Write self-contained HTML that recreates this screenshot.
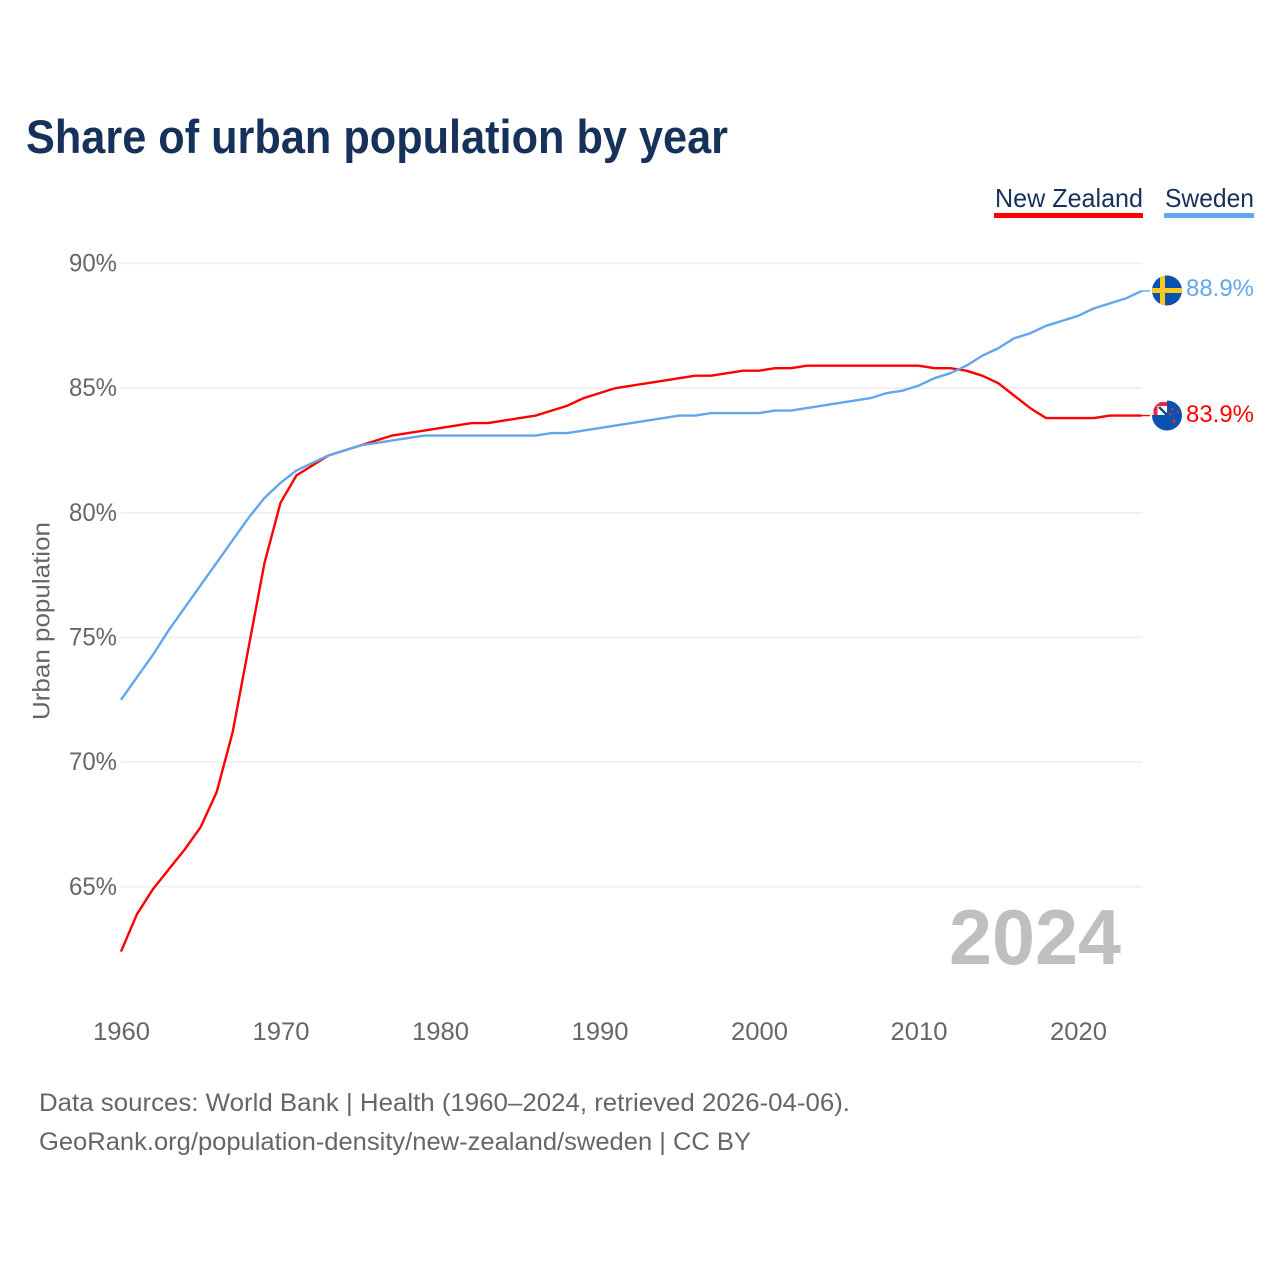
<!DOCTYPE html>
<html lang="en">
<head>
<meta charset="utf-8">
<title>Share of urban population by year</title>
<style>
html,body{margin:0;padding:0;background:#fff;width:1280px;height:1280px;overflow:hidden}
svg{display:block}
text{font-family:"Liberation Sans",sans-serif}
</style>
</head>
<body>
<svg id="chart" width="1280" height="1280" viewBox="0 0 1280 1280" xmlns="http://www.w3.org/2000/svg">
  <defs>
    <clipPath id="clip-se"><circle cx="1167" cy="290.5" r="15"/></clipPath>
    <clipPath id="clip-nz"><circle cx="1167" cy="415.5" r="15"/></clipPath>
  </defs>
  <rect width="1280" height="1280" fill="#ffffff"/>
  <text x="26" y="153" font-size="47" font-weight="700" fill="#17325a" textLength="702" lengthAdjust="spacingAndGlyphs">Share of urban population by year</text>

  <g id="grid"></g>
  <g id="yticks"></g>
  <g id="xticks"></g>
  <text transform="translate(49.5,621) rotate(-90)" text-anchor="middle" font-size="24" fill="#666666" textLength="198" lengthAdjust="spacingAndGlyphs">Urban population</text>

  <text x="1121" y="964" text-anchor="end" font-size="78" font-weight="700" fill="#bfbfbf" textLength="172" lengthAdjust="spacingAndGlyphs">2024</text>

  <polyline id="line-nz" fill="none" stroke="#ff0000" stroke-width="2.4" stroke-linejoin="round"/>
  <polyline id="line-sweden" fill="none" stroke="#62a6ec" stroke-width="2.4" stroke-linejoin="round"/>
  <line id="conn-sweden" stroke="#62a6ec" stroke-width="1.4"/>
  <line id="conn-nz" stroke="#ff0000" stroke-width="1.4"/>

  <g id="legend">
    <g>
      <text x="995" y="207" font-size="26" fill="#17325a" textLength="148" lengthAdjust="spacingAndGlyphs">New Zealand</text>
      <rect x="994" y="213" width="149" height="5" fill="#ff0000"/>
    </g>
    <g>
      <text x="1165" y="207" font-size="26" fill="#17325a" textLength="89" lengthAdjust="spacingAndGlyphs">Sweden</text>
      <rect x="1164" y="213" width="90" height="5" fill="#62a6ec"/>
    </g>
  </g>

  <g clip-path="url(#clip-se)">
    <rect x="1152" y="275" width="30" height="31" fill="#0a52ae"/>
    <rect x="1160" y="275" width="5" height="31" fill="#fcc91f"/>
    <rect x="1152" y="288" width="30" height="5" fill="#fcc91f"/>
  </g>
  <g clip-path="url(#clip-nz)">
    <rect x="1152" y="400" width="30" height="31" fill="#0a52ae"/>
    <rect x="1152" y="400" width="15" height="15" fill="#ffffff"/>
    <path d="M1155.5 415V404H1167" fill="none" stroke="#e8283c" stroke-width="4"/>
    <path d="M1159 407L1167 415" stroke="#17428f" stroke-width="2.5"/>
    <circle cx="1172" cy="409" r="1.2" fill="#e8283c"/>
    <circle cx="1178" cy="412" r="1.2" fill="#e8283c"/>
    <circle cx="1170" cy="414" r="1.2" fill="#e8283c"/>
    <circle cx="1174" cy="421" r="1.6" fill="#e8283c"/>
  </g>
  <text x="1186" y="296" font-size="24" fill="#62a6ec" textLength="68" lengthAdjust="spacingAndGlyphs">88.9%</text>
  <text x="1186" y="422" font-size="24" fill="#ff0000" textLength="68" lengthAdjust="spacingAndGlyphs">83.9%</text>

  <text x="39" y="1111" font-size="25" fill="#666666" textLength="811" lengthAdjust="spacingAndGlyphs">Data sources: World Bank | Health (1960–2024, retrieved 2026-04-06).</text>
  <text x="39" y="1150" font-size="25" fill="#666666" textLength="712" lengthAdjust="spacingAndGlyphs">GeoRank.org/population-density/new-zealand/sweden | CC BY</text>
</svg>
<script>
const firstYear = 1960;
const sweden = [72.5,73.4,74.3,75.3,76.2,77.1,78.0,78.9,79.8,80.6,81.2,81.7,82.0,82.3,82.5,82.7,82.8,82.9,83.0,83.1,83.1,83.1,83.1,83.1,83.1,83.1,83.1,83.2,83.2,83.3,83.4,83.5,83.6,83.7,83.8,83.9,83.9,84.0,84.0,84.0,84.0,84.1,84.1,84.2,84.3,84.4,84.5,84.6,84.8,84.9,85.1,85.4,85.6,85.9,86.3,86.6,87.0,87.2,87.5,87.7,87.9,88.2,88.4,88.6,88.9];
const newZealand = [62.4,63.9,64.9,65.7,66.5,67.4,68.8,71.2,74.6,78.0,80.4,81.5,81.9,82.3,82.5,82.7,82.9,83.1,83.2,83.3,83.4,83.5,83.6,83.6,83.7,83.8,83.9,84.1,84.3,84.6,84.8,85.0,85.1,85.2,85.3,85.4,85.5,85.5,85.6,85.7,85.7,85.8,85.8,85.9,85.9,85.9,85.9,85.9,85.9,85.9,85.9,85.8,85.8,85.7,85.5,85.2,84.7,84.2,83.8,83.8,83.8,83.8,83.9,83.9,83.9];
const yTickValues = [65,70,75,80,85,90];
const xTickValues = [1960,1970,1980,1990,2000,2010,2020];

function xScale(year){ return 121 + (year - 1960) * 15.95; }
function yScale(v){ return 263.5 + (90 - v) * 24.93; }

const NS = 'http://www.w3.org/2000/svg';
const grid = document.getElementById('grid');
const yticks = document.getElementById('yticks');
const xticks = document.getElementById('xticks');

yTickValues.forEach(function(v){
  const line = document.createElementNS(NS,'line');
  line.setAttribute('x1', 121);
  line.setAttribute('x2', 1142);
  line.setAttribute('y1', yScale(v));
  line.setAttribute('y2', yScale(v));
  line.setAttribute('stroke', '#eeeeee');
  line.setAttribute('stroke-width', '1.6');
  
  
  grid.appendChild(line);

  const t = document.createElementNS(NS,'text');
  t.setAttribute('x', 117);
  t.setAttribute('y', yScale(v) + 8);
  t.setAttribute('text-anchor', 'end');
  t.setAttribute('font-size', '25');
  t.setAttribute('fill', '#666666');
  t.setAttribute('textLength', '48');
  t.setAttribute('lengthAdjust', 'spacingAndGlyphs');
  
  
  t.textContent = v + '%';
  yticks.appendChild(t);
});

xTickValues.forEach(function(y){
  const t = document.createElementNS(NS,'text');
  t.setAttribute('x', xScale(y) + 0.5);
  t.setAttribute('y', 1040);
  t.setAttribute('text-anchor', 'middle');
  t.setAttribute('font-size', '25');
  t.setAttribute('fill', '#666666');
  t.setAttribute('textLength', '57');
  t.setAttribute('lengthAdjust', 'spacingAndGlyphs');
  
  
  t.textContent = y;
  xticks.appendChild(t);
});

function pointsFor(values){
  return values.map(function(v,i){ return xScale(firstYear + i).toFixed(2) + ',' + yScale(v).toFixed(2); }).join(' ');
}
document.getElementById('line-sweden').setAttribute('points', pointsFor(sweden));
document.getElementById('line-nz').setAttribute('points', pointsFor(newZealand));

function connector(id, values){
  const el = document.getElementById(id);
  const last = values[values.length - 1];
  el.setAttribute('x1', xScale(firstYear + values.length - 1));
  el.setAttribute('x2', 1150);
  el.setAttribute('y1', yScale(last));
  el.setAttribute('y2', yScale(last));
}
connector('conn-sweden', sweden);
connector('conn-nz', newZealand);
</script>
</body>
</html>
